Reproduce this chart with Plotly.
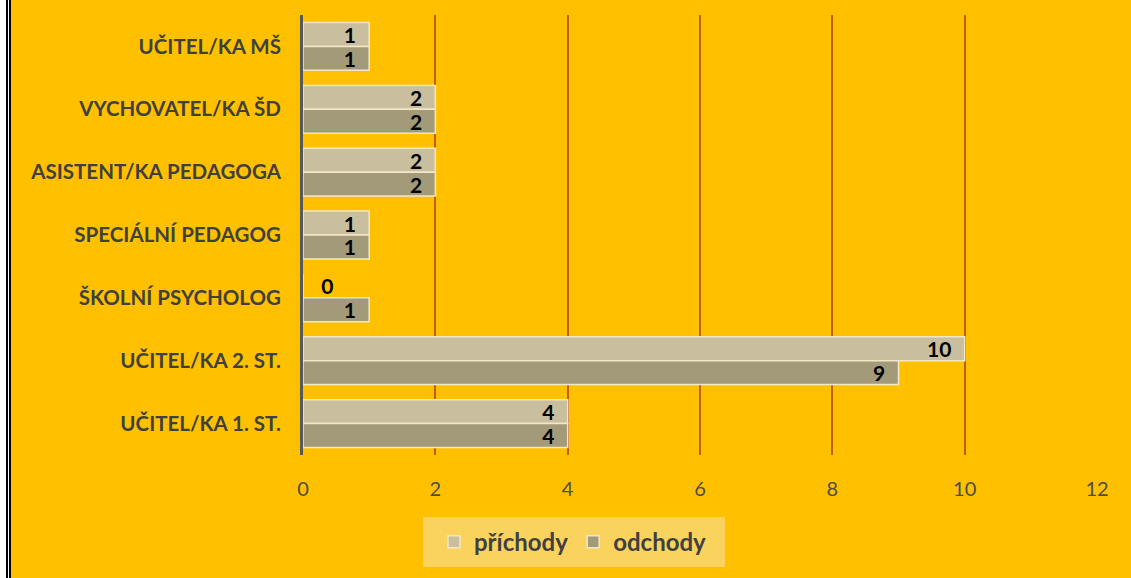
import plotly.graph_objects as go

categories = ["UČITEL/KA MŠ", "VYCHOVATEL/KA ŠD", "ASISTENT/KA PEDAGOGA",
              "SPECIÁLNÍ PEDAGOG", "ŠKOLNÍ PSYCHOLOG", "UČITEL/KA 2. ST.", "UČITEL/KA 1. ST."]
prichody = [1, 2, 2, 1, 0, 10, 4]
odchody = [1, 2, 2, 1, 1, 9, 4]
x_ticks = [0, 2, 4, 6, 8, 10, 12]

FONT = "Lato"
BG = "#FFC000"

def positions(vals):
    return ["outside" if v == 0 else "inside" for v in vals]

def labels(vals):
    return ["\u00a0\u00a0\u00a0" + str(v) if v == 0 else str(v) + "\u00a0\u00a0" for v in vals]

fig = go.Figure()
for name, vals, color in [("příchody", prichody, "#C9BF9F"), ("odchody", odchody, "#A39A7A")]:
    fig.add_trace(go.Bar(
        name=name, y=categories, x=vals, orientation="h",
        marker=dict(color=color, line=dict(color="#F2E8C6", width=1.5)),
        text=labels(vals), textposition=positions(vals), textangle=0,
        insidetextanchor="end", constraintext="none",
        textfont=dict(family=FONT, size=21, color="#000000", weight="bold"),
        cliponaxis=False,
    ))

fig.update_layout(
    width=1131, height=578,
    paper_bgcolor=BG, plot_bgcolor=BG,
    margin=dict(l=303, r=34, t=15, b=123),
    barmode="group", bargap=0.24, bargroupgap=0,
    xaxis=dict(range=[0, 12], tickvals=x_ticks, showgrid=True,
               gridcolor="#C55A11", gridwidth=1.5, zeroline=False,
               showline=False, ticks="", ticklabelstandoff=20,
               tickfont=dict(family=FONT, size=20, color="#4D4D4D")),
    yaxis=dict(autorange="reversed", showgrid=False, showline=True,
               linecolor="#595959", linewidth=3, ticks="",
               ticklabelstandoff=15,
               tickfont=dict(family=FONT, size=20.5, color="#404040", weight="bold")),
    showlegend=True,
    legend=dict(orientation="h", x=0.340, y=-0.198, xanchor="center", yanchor="middle",
                bgcolor="rgba(0,0,0,0)", borderwidth=0,
                font=dict(family=FONT, size=24, color="#404040", weight="bold"),
                itemwidth=30, traceorder="normal"),
    shapes=[
        dict(type="rect", xref="paper", yref="paper", x0=(423 - 303) / 794, x1=(725 - 303) / 794,
             y0=(455 - 567) / 440, y1=(455 - 517) / 440, fillcolor="#F9D35E",
             line=dict(width=0), layer="below"),
        dict(type="rect", xref="paper", yref="paper", x0=(0 - 303) / 794, x1=(6 - 303) / 794,
             y0=-1, y1=2, fillcolor="#FFFFFF", line=dict(width=0), layer="above"),
        dict(type="rect", xref="paper", yref="paper", x0=(6 - 303) / 794, x1=(8 - 303) / 794,
             y0=-1, y1=2, fillcolor="#000000", line=dict(width=0), layer="above"),
        dict(type="rect", xref="paper", yref="paper", x0=(8 - 303) / 794, x1=(9 - 303) / 794,
             y0=-1, y1=2, fillcolor="#FFFFFF", line=dict(width=0), layer="above"),
        dict(type="rect", xref="paper", yref="paper", x0=(9 - 303) / 794, x1=(11 - 303) / 794,
             y0=-1, y1=2, fillcolor="#000000", line=dict(width=0), layer="above"),
    ],
)

fig.write_html("out.html", config={"displayModeBar": False},
               post_script="document.body.style.margin='0';document.body.style.padding='0';")
